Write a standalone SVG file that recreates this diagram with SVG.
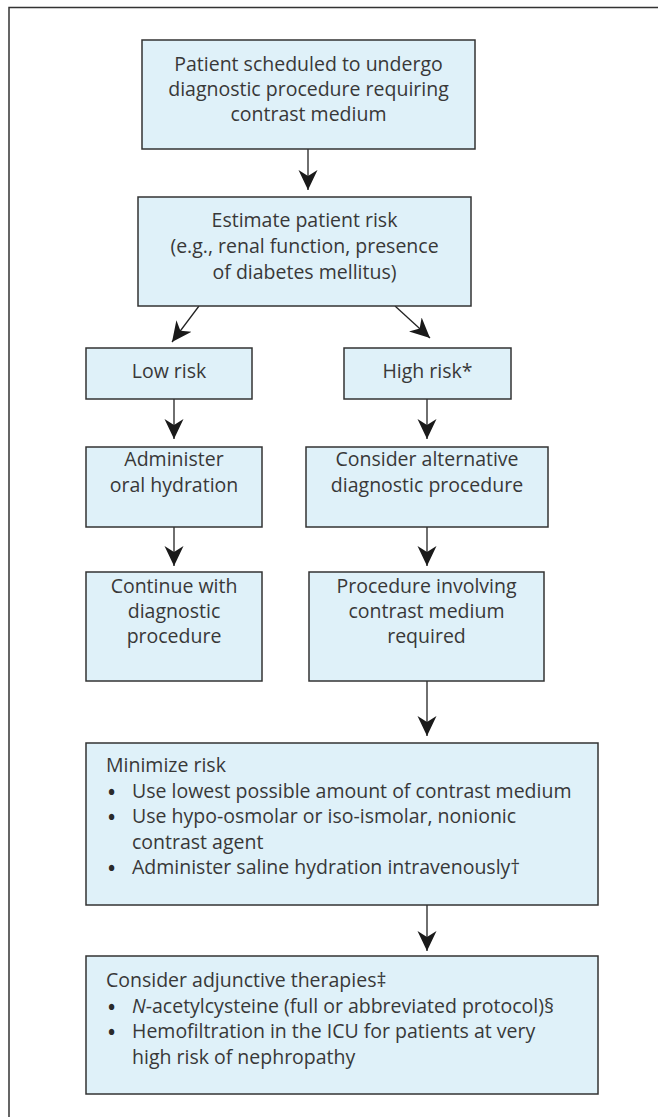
<svg xmlns="http://www.w3.org/2000/svg" width="658" height="1117" viewBox="0 0 658 1117">
<style>
.box{fill:#dff1f9;stroke:#333;stroke-width:1.5}
.t{font-family:"Open Sans","Noto Sans",sans-serif;font-size:19.5px;fill:#383838}
.c{text-anchor:middle}
.b{font-family:"Open Sans","Noto Sans",sans-serif;font-size:19px;font-weight:bold;fill:#2a2a2a}
.ln{stroke:#222;stroke-width:1.3;fill:none;marker-end:url(#ah)}
</style>
<defs>
<marker id="ah" viewBox="0 0 20 20" refX="20" refY="10" markerWidth="20" markerHeight="20" markerUnits="userSpaceOnUse" orient="auto">
<path d="M20,10 L0,0.5 L6,10 L0,19.5 Z" fill="#1a1a1a"/>
</marker>
</defs>
<rect width="658" height="1117" fill="#fff"/>
<path d="M9,1117 V7.5 H658" fill="none" stroke="#333" stroke-width="1.5"/>
<g id="connectors">
<line class="ln" x1="308" y1="149" x2="308" y2="190"/>
<line class="ln" x1="199" y1="306" x2="172" y2="342"/>
<line class="ln" x1="395" y1="306" x2="430" y2="338"/>
<line class="ln" x1="174" y1="399" x2="174" y2="439"/>
<line class="ln" x1="427" y1="399" x2="427" y2="439"/>
<line class="ln" x1="174" y1="527" x2="174" y2="566"/>
<line class="ln" x1="427" y1="527" x2="427" y2="566"/>
<line class="ln" x1="427" y1="681" x2="427" y2="736"/>
<line class="ln" x1="427" y1="905" x2="427" y2="951"/>
</g>
<g id="n1">
<rect class="box" x="142" y="40" width="333" height="109"/>
<text class="t c" x="308.5" y="71">Patient scheduled to undergo</text>
<text class="t c" x="308.5" y="96">diagnostic procedure requiring</text>
<text class="t c" x="308.5" y="121">contrast medium</text>
</g>
<g id="n2">
<rect class="box" x="138" y="197" width="333" height="109"/>
<text class="t c" x="304.5" y="227">Estimate patient risk</text>
<text class="t c" x="304.5" y="253">(e.g., renal function, presence</text>
<text class="t c" x="304.5" y="279">of diabetes mellitus)</text>
</g>
<g id="n3">
<rect class="box" x="86" y="348" width="166" height="51"/>
<text class="t c" x="169" y="378">Low risk</text>
</g>
<g id="n4">
<rect class="box" x="344" y="348" width="167" height="51"/>
<text class="t c" x="427.5" y="378">High risk*</text>
</g>
<g id="n5">
<rect class="box" x="86" y="447" width="176" height="80"/>
<text class="t c" x="174" y="466">Administer</text>
<text class="t c" x="174" y="492">oral hydration</text>
</g>
<g id="n6">
<rect class="box" x="306" y="447" width="242" height="80"/>
<text class="t c" x="427" y="466">Consider alternative</text>
<text class="t c" x="427" y="492">diagnostic procedure</text>
</g>
<g id="n7">
<rect class="box" x="86" y="572" width="176" height="109"/>
<text class="t c" x="174" y="593">Continue with</text>
<text class="t c" x="174" y="618">diagnostic</text>
<text class="t c" x="174" y="643">procedure</text>
</g>
<g id="n8">
<rect class="box" x="309" y="572" width="235" height="109"/>
<text class="t c" x="426.5" y="593">Procedure involving</text>
<text class="t c" x="426.5" y="618">contrast medium</text>
<text class="t c" x="426.5" y="643">required</text>
</g>
<g id="n9">
<rect class="box" x="86" y="743" width="512" height="162"/>
<text class="t" x="106" y="772">Minimize risk</text>
<text class="b" x="108" y="798.5">•</text><text class="t" x="132" y="797.5">Use lowest possible amount of contrast medium</text>
<text class="b" x="108" y="824">•</text><text class="t" x="132" y="823">Use hypo-osmolar or iso-ismolar, nonionic</text>
<text class="t" x="132" y="848.5">contrast agent</text>
<text class="b" x="108" y="875">•</text><text class="t" x="132" y="874">Administer saline hydration intravenously†</text>
</g>
<g id="n10">
<rect class="box" x="86" y="956" width="512" height="138"/>
<text class="t" x="106" y="987">Consider adjunctive therapies‡</text>
<text class="b" x="108" y="1013.5">•</text><text class="t" x="132" y="1012.5"><tspan font-style="italic">N</tspan>-acetylcysteine (full or abbreviated protocol)§</text>
<text class="b" x="108" y="1039">•</text><text class="t" x="132" y="1038">Hemofiltration in the ICU for patients at very</text>
<text class="t" x="132" y="1063.5">high risk of nephropathy</text>
</g>
</svg>
